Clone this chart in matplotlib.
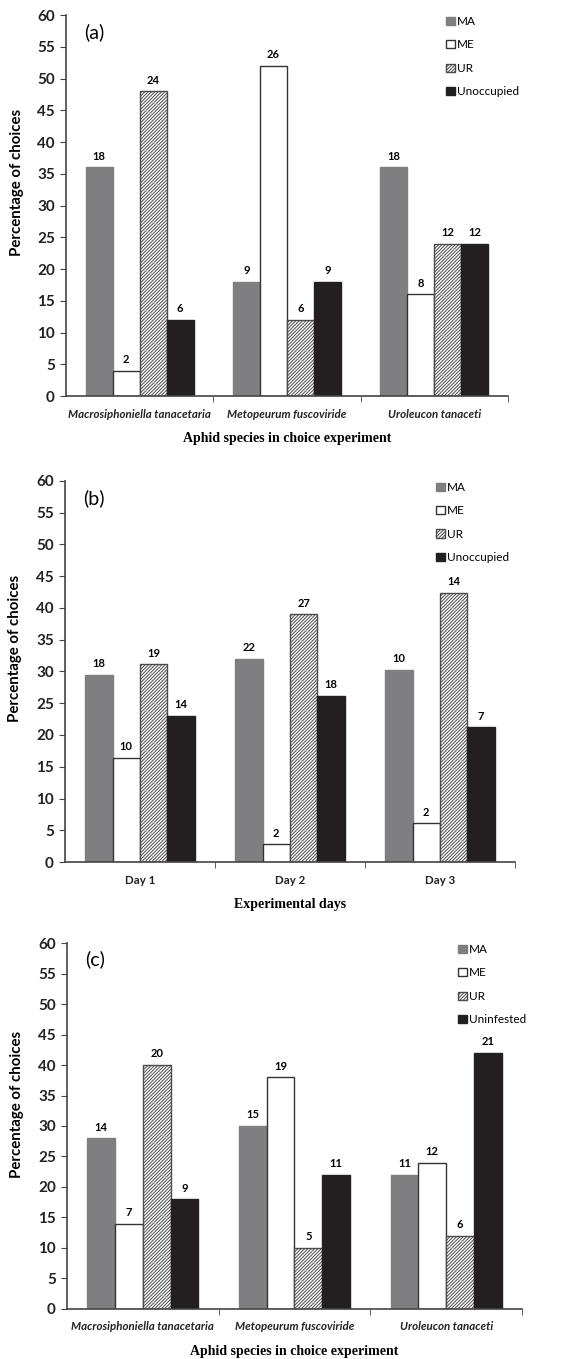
# Import
import numpy as np
import matplotlib
matplotlib.use("Agg")
import matplotlib.pyplot as plt

# Données
series = ["MA", "ME", "UR", "Unoccupied"]
series_c = ["MA", "ME", "UR", "Uninfested"]

species = ["Macrosiphoniella tanacetaria", "Metopeurum fuscoviride", "Uroleucon tanaceti"]
days = ["Day 1", "Day 2", "Day 3"]

# (a) pourcentages et effectifs, une liste par groupe
pct_a = [[36, 4, 48, 12], [18, 52, 12, 18], [36, 16, 24, 24]]
n_a = [[18, 2, 24, 6], [9, 26, 6, 9], [18, 8, 12, 12]]

# (b)
pct_b = [[29.5, 16.4, 31.1, 23.0], [32.0, 2.8, 39.0, 26.2], [30.3, 6.1, 42.4, 21.2]]
n_b = [[18, 10, 19, 14], [22, 2, 27, 18], [10, 2, 14, 7]]

# (c)
pct_c = [[28, 14, 40, 18], [30, 38, 10, 22], [22, 24, 12, 42]]
n_c = [[14, 7, 20, 9], [15, 19, 5, 11], [11, 12, 6, 21]]

# Styles
plt.rcParams["hatch.linewidth"] = 0.7
sans = ["Lato", "DejaVu Sans"]
styles = [
    dict(color="#7f7f82", edgecolor="#7f7f82", hatch=None),
    dict(color="white", edgecolor="#333333", hatch=None),
    dict(color="white", edgecolor="#4a4a4a", hatch="//////////"),
    dict(color="#231f20", edgecolor="#231f20", hatch=None),
]
largeur = 0.183


def panneau(rect, pct, n, cats, labels, lettre, titre_x, italique, leg_x):
    ax = fig.add_axes(rect)
    pct = np.array(pct)
    x = np.arange(len(cats))
    for i in range(4):
        st = styles[i]
        bars = ax.bar(x + (i - 1.5) * largeur, pct[:, i], largeur,
                      color=st["color"], edgecolor=st["edgecolor"],
                      hatch=st["hatch"], linewidth=1.0, label=labels[i])
        ax.bar_label(bars, labels=[str(v) for v in np.array(n)[:, i]],
                     padding=4, fontsize=8, fontweight="bold", family=sans)
    ax.set_xlim(-0.5, len(cats) - 0.5)
    ax.set_ylim(0, 60)
    ax.set_yticks(np.arange(0, 61, 5))
    ax.set_xticks(x)
    ax.set_xticks(x + 0.5, minor=True)
    ax.tick_params(axis="x", which="major", length=0, pad=9)
    ax.tick_params(axis="x", which="minor", length=4, direction="out", color="#444444")
    ax.tick_params(axis="y", length=4, direction="out", color="#444444", pad=4)
    if italique:
        ax.set_xticklabels(cats, fontsize=8.3, style="italic", fontweight="bold", family=sans, color="#222222")
    else:
        ax.set_xticklabels(cats, fontsize=8.3, fontweight="bold", family=sans, color="#222222")
    for t in ax.get_yticklabels():
        t.set_fontsize(11)
        t.set_fontweight("bold")
        t.set_family(sans)
        t.set_color("#222222")
    for s in ["top", "right"]:
        ax.spines[s].set_visible(False)
    for s in ["left", "bottom"]:
        ax.spines[s].set_color("#444444")
        ax.spines[s].set_linewidth(1.2)
    ax.set_ylabel("Percentage of choices", fontsize=10.8, fontweight="bold", family=sans, labelpad=8)
    ax.yaxis.set_label_coords(-0.095, 0.56)
    ax.set_xlabel(titre_x, fontsize=10, fontweight="bold", family="Liberation Serif", labelpad=9)
    ax.text(0.04, 0.955, lettre, transform=ax.transAxes, fontsize=14, family=sans, va="center")
    ax.legend(loc="upper left", bbox_to_anchor=(leg_x, 1.01), frameon=False,
              prop={"family": sans, "size": 8.5}, handlelength=0.7, handleheight=0.7,
              handletextpad=0.2, labelspacing=1.05, borderaxespad=0)
    return ax


# Partie affichage
fig = plt.figure(figsize=(5.82, 13.59), dpi=100)
panneau([0.1134, 0.7086, 0.7595, 0.2803], pct_a, n_a, species, series, "(a)",
        "Aphid species in choice experiment", True, 0.85)
panneau([0.1117, 0.3657, 0.7732, 0.2804], pct_b, n_b, days, series, "(b)",
        "Experimental days", False, 0.815)
panneau([0.1151, 0.0368, 0.7818, 0.2693], pct_c, n_c, species, series_c, "(c)",
        "Aphid species in choice experiment", True, 0.85)
fig.savefig("out.png", dpi=100)
